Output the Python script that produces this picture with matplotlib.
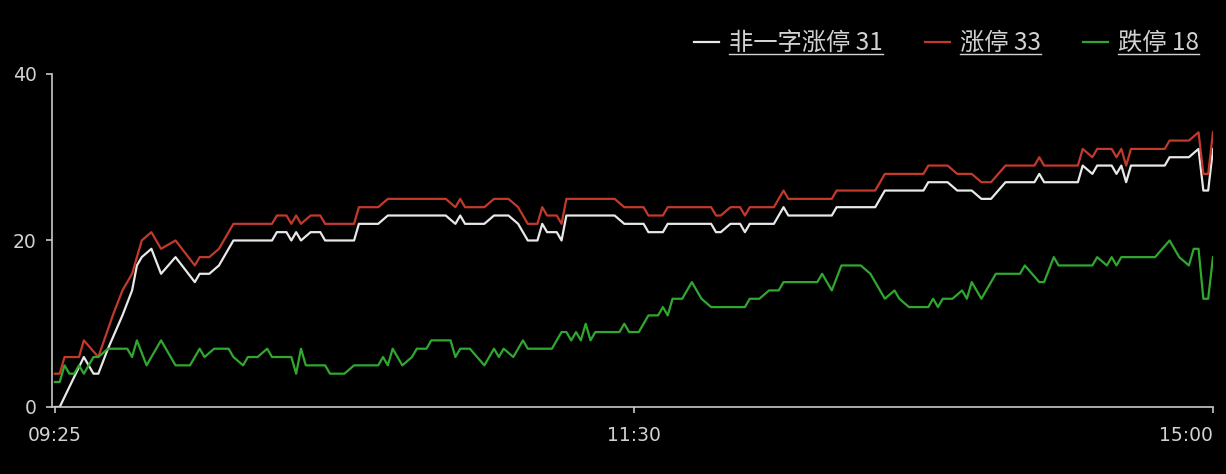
import matplotlib
matplotlib.use("Agg")
import matplotlib.pyplot as plt
from matplotlib.lines import Line2D

# minute index from 09:25 (0) to 15:00 (240), 11:30 at 120
tick_pos = [0, 120, 240]
tick_labels = ["09:25", "11:30", "15:00"]

white_x = [0, 1, 6, 8, 9, 11, 14, 16, 17, 18, 20, 22, 25, 29, 30, 32, 34, 35, 37, 45, 46, 48, 49, 50,
           51, 53, 55, 56, 62, 63, 67, 69, 81, 83, 84, 85, 89, 91, 94, 96, 98, 100, 101, 102, 104,
           105, 106, 116, 118, 122, 123, 126, 127, 136, 137, 138, 140, 142, 143, 144, 149, 151,
           152, 161, 162, 170, 172, 180, 181, 185, 187, 190, 192, 194, 197, 203, 204, 205, 212,
           213, 215, 216, 219, 220, 221, 222, 223, 230, 231, 235, 237, 238, 239, 240]
white_y = [0, 0, 6, 4, 4, 7, 11, 14, 17, 18, 19, 16, 18, 15, 16, 16, 17, 18, 20, 20, 21, 21, 20, 21,
           20, 21, 21, 20, 20, 22, 22, 23, 23, 22, 23, 22, 22, 23, 23, 22, 20, 20, 22, 21, 21,
           20, 23, 23, 22, 22, 21, 21, 22, 22, 21, 21, 22, 22, 21, 22, 22, 24,
           23, 23, 24, 24, 26, 26, 27, 27, 26, 26, 25, 25, 27, 27, 28, 27, 27,
           29, 28, 29, 29, 28, 29, 27, 29, 29, 30, 30, 31, 26, 26, 31]

red_x = [0, 1, 2, 5, 6, 9, 12, 14, 16, 18, 20, 22, 25, 29, 30, 32, 34, 35, 37, 45, 46, 48, 49, 50,
         51, 53, 55, 56, 62, 63, 67, 69, 81, 83, 84, 85, 89, 91, 94, 96, 98, 100, 101, 102, 104,
         105, 106, 116, 118, 122, 123, 126, 127, 136, 137, 138, 140, 142, 143, 144, 149, 151,
         152, 161, 162, 170, 172, 180, 181, 185, 187, 190, 192, 194, 197, 203, 204, 205, 212,
         213, 215, 216, 219, 220, 221, 222, 223, 230, 231, 235, 237, 238, 239, 240]
red_y = [4, 4, 6, 6, 8, 6, 11, 14, 16, 20, 21, 19, 20, 17, 18, 18, 19, 20, 22, 22, 23, 23, 22, 23,
         22, 23, 23, 22, 22, 24, 24, 25, 25, 24, 25, 24, 24, 25, 25, 24, 22, 22, 24, 23, 23,
         22, 25, 25, 24, 24, 23, 23, 24, 24, 23, 23, 24, 24, 23, 24, 24, 26,
         25, 25, 26, 26, 28, 28, 29, 29, 28, 28, 27, 27, 29, 29, 30, 29, 29,
         31, 30, 31, 31, 30, 31, 29, 31, 31, 32, 32, 33, 28, 28, 33]

green_x = [0, 1, 2, 3, 4, 5, 6, 7, 8, 9, 11, 15, 16, 17, 19, 22, 25, 28, 30, 31, 33, 36, 37, 39,
           40, 42, 44, 45, 49, 50, 51, 52, 56, 57, 60, 62, 67, 68, 69, 70, 72, 74, 75, 77, 78,
           82, 83, 84, 86, 89, 91, 92, 93, 95, 97, 98, 103, 105, 106, 107, 108, 109, 110, 111,
           112, 117, 118, 119, 121, 123, 125, 126, 127, 128, 130, 132, 133, 134, 136, 143, 144,
           146, 148, 150, 151, 158, 159, 161, 163, 167, 169, 172, 174, 175, 177, 181, 182, 183,
           184, 186, 188, 189, 190, 192, 195, 200, 201, 204, 205, 207, 208, 215, 216, 218, 219,
           220, 221, 228, 231, 233, 235, 236, 237, 238, 239, 240]
green_y = [3, 3, 5, 4, 4, 5, 4, 5, 6, 6, 7, 7, 6, 8, 5, 8, 5, 5, 7, 6, 7, 7, 6, 5,
           6, 6, 7, 6, 6, 4, 7, 5, 5, 4, 4, 5, 5, 6, 5, 7, 5, 6, 7, 7, 8,
           8, 6, 7, 7, 5, 7, 6, 7, 6, 8, 7, 7, 9, 9, 8, 9, 8, 10, 8,
           9, 9, 10, 9, 9, 11, 11, 12, 11, 13, 13, 15, 14, 13, 12, 12, 13,
           13, 14, 14, 15, 15, 16, 14, 17, 17, 16, 13, 14, 13, 12, 12, 13, 12,
           13, 13, 14, 13, 15, 13, 16, 16, 17, 15, 15, 18, 17, 17, 18, 17, 18,
           17, 18, 18, 20, 18, 17, 19, 19, 13, 13, 18]

labels = ["非一字涨停 31", "涨停 33", "跌停 18"]

axis_col = "#c8c8c8"
text_col = "#d2d2d2"

fig = plt.figure(figsize=(12.26, 4.74), dpi=100, facecolor="black")
ax = fig.add_axes([0.0424, 0.1414, 0.9470, 0.7025])
ax.set_facecolor("black")

ax.plot(white_x, white_y, color="#e8e8e8", lw=1.6, label=labels[0])
ax.plot(red_x, red_y, color="#c3392c", lw=1.6, label=labels[1])
ax.plot(green_x, green_y, color="#30a830", lw=1.6, label=labels[2])

ax.set_xlim(-0.6, 240)
ax.set_ylim(0, 40)
ax.set_yticks([0, 20, 40])
ax.set_xticks(tick_pos)
ax.set_xticklabels(tick_labels)
ax.get_xticklabels()[-1].set_ha("right")

for s in ["top", "right"]:
    ax.spines[s].set_visible(False)
for s in ["left", "bottom"]:
    ax.spines[s].set_color(axis_col)
    ax.spines[s].set_linewidth(1.2)
ax.tick_params(colors=axis_col, labelcolor=text_col, labelsize=13.5, length=4, width=1.2)
ax.tick_params(axis="y", pad=7)
ax.tick_params(axis="x", pad=10)

leg = fig.legend(loc="center right", bbox_to_anchor=(0.978, 0.909), ncol=3, frameon=False,
                 prop={"family": ["Noto Sans CJK SC", "DejaVu Sans"], "size": 17.5},
                 handlelength=1.03, handletextpad=0.41, columnspacing=1.73,
                 borderpad=0, borderaxespad=0, labelcolor=text_col)

# underline legend texts
fig.canvas.draw()
r = fig.canvas.get_renderer()
inv = fig.transFigure.inverted()
for t in leg.get_texts():
    bb = t.get_window_extent(r)
    (x0, y0), (x1, _) = inv.transform([(bb.x0, bb.y0 + 2), (bb.x1, bb.y0 + 2)])
    fig.add_artist(Line2D([x0, x1], [y0, y0], transform=fig.transFigure, color=text_col, lw=1))

fig.savefig("out.png", dpi=100, facecolor="black")
